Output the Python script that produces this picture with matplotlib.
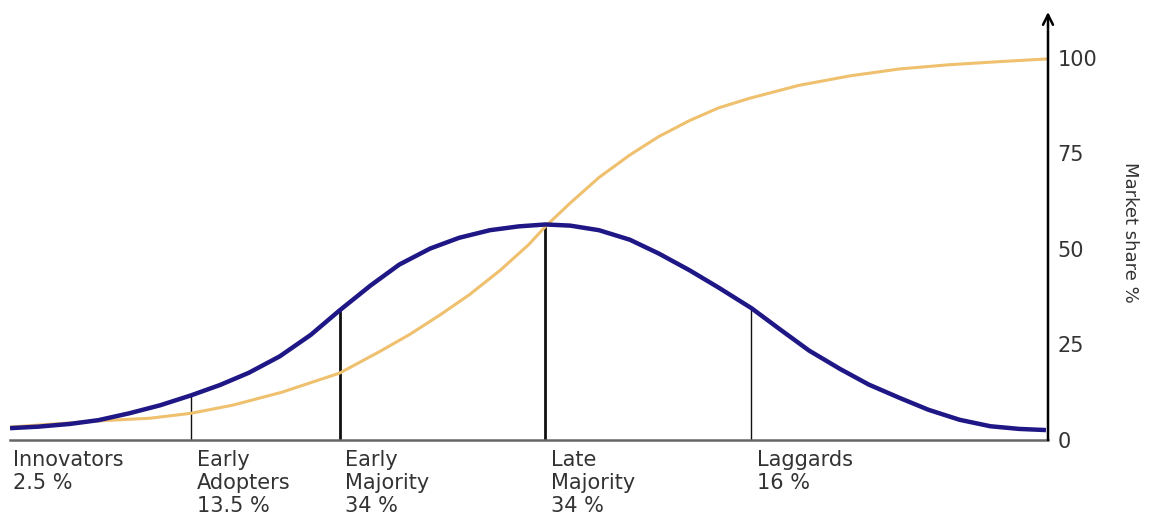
import matplotlib.pyplot as plt

# positions along the adoption axis, in standard deviations from the mean
bell_x = [-2.60, -2.46, -2.31, -2.17, -2.02, -1.87, -1.72, -1.58, -1.44, -1.29,
          -1.14, -1.00, -0.85, -0.71, -0.56, -0.42, -0.27, -0.13, 0.00,
          0.12, 0.26, 0.41, 0.55, 0.70, 0.84, 1.00, 1.14, 1.28, 1.43,
          1.57, 1.72, 1.86, 2.01, 2.16, 2.30, 2.43]
bell_y = [3.1, 3.5, 4.2, 5.2, 7.0, 9.1, 11.7, 14.4, 17.6, 21.9,
          27.5, 33.9, 40.4, 45.9, 50.1, 52.9, 54.9, 55.9, 56.4,
          56.1, 54.9, 52.4, 48.8, 44.4, 39.9, 34.5, 28.9, 23.4, 18.6,
          14.5, 11.0, 7.9, 5.3, 3.6, 2.9, 2.6]

share_x = [-2.60, -2.17, -1.92, -1.72, -1.52, -1.28, -1.00, -0.81, -0.66, -0.51,
           -0.37, -0.22, -0.08, 0.00, 0.12, 0.26, 0.41, 0.55, 0.70, 0.84,
           0.99, 1.23, 1.48, 1.72, 1.96, 2.20, 2.43]
share_y = [3.4, 5.0, 5.7, 7.0, 9.1, 12.5, 17.5, 23.0, 27.6, 32.8,
           38.0, 44.4, 51.2, 55.9, 62.0, 68.7, 74.6, 79.4, 83.6, 86.9,
           89.4, 92.8, 95.3, 97.1, 98.2, 99.0, 99.7]

# category boundaries and the height of the divider lines
bounds = [-1.72, -1.00, 0.00, 1.00]
bound_h = [11.7, 33.9, 56.4, 34.5]
bound_lw = [1.0, 2.0, 2.0, 1.0]

labels = ["Innovators\n2.5 %", "Early\nAdopters\n13.5 %", "Early\nMajority\n34 %",
          "Late\nMajority\n34 %", "Laggards\n16 %"]
label_x = [-2.59] + bounds

yticks = [0, 25, 50, 75, 100]

fig = plt.figure(figsize=(11.52, 5.21), dpi=100)
ax = fig.add_axes([10 / 1152, 81 / 521, 1038 / 1152, 428 / 521])

ax.plot(share_x, share_y, color='#EFC06E', lw=2.2, zorder=2)
ax.plot(bell_x, bell_y, color='#1E1785', lw=3.2, zorder=3, solid_capstyle='butt')

for b, h, w in zip(bounds, bound_h, bound_lw):
    ax.plot([b, b], [0, h], color='#111111', lw=w, zorder=1)

for x, t in zip(label_x, labels):
    ax.annotate(t, (x, 0), xytext=(4 if x > -2.5 else 1, -7), textcoords='offset points',
                ha='left', va='top', fontsize=15, color='#333333',
                linespacing=1.19, family='DejaVu Sans', annotation_clip=False)

ax.set_xlim(-2.60, 2.44)
ax.set_ylim(0, 112)

for s in ['top', 'left', 'right']:
    ax.spines[s].set_visible(False)
ax.spines['bottom'].set_color('#666666')
ax.spines['bottom'].set_linewidth(1.8)

# y axis with arrow on the right
ax.annotate('', xy=(1, 1), xytext=(1, 0), xycoords='axes fraction',
            arrowprops=dict(arrowstyle='->', lw=1.8, color='black',
                            mutation_scale=18, shrinkA=0, shrinkB=0))

ax.set_xticks([])
ax.yaxis.tick_right()
ax.set_yticks(yticks)
ax.set_yticklabels([str(v) for v in yticks], fontsize=15, color='#333333')
ax.tick_params(axis='y', length=0, pad=7)

fig.text(1130 / 1152, 1 - 232 / 521, "Market share %", rotation=-90,
         ha='center', va='center', fontsize=13, color='#333333',
         family=['Liberation Sans Narrow', 'DejaVu Sans'])

fig.savefig('out.png', dpi=100)
